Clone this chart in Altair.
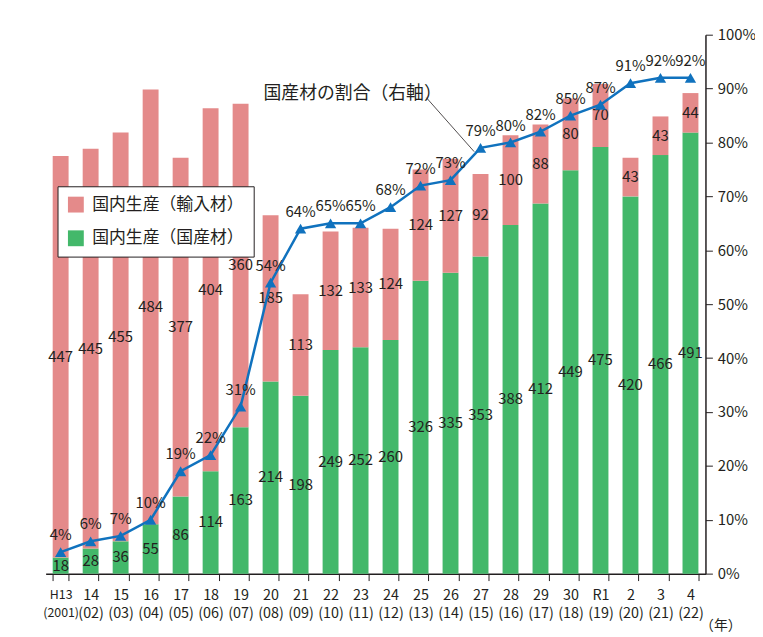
import altair as alt
import pandas as pd

# ---- data ----
years = ["H13|(2001)", "14|(02)", "15|(03)", "16|(04)", "17|(05)", "18|(06)", "19|(07)",
         "20|(08)", "21|(09)", "22|(10)", "23|(11)", "24|(12)", "25|(13)", "26|(14)",
         "27|(15)", "28|(16)", "29|(17)", "30|(18)", "R1|(19)", "2|(20)", "3|(21)", "4|(22)"]
domestic = [18, 28, 36, 55, 86, 114, 163, 214, 198, 249, 252, 260, 326, 335, 353, 388, 412, 449, 475, 420, 466, 491]
imported = [447, 445, 455, 484, 377, 404, 360, 185, 113, 132, 133, 124, 124, 127, 92, 100, 88, 80, 70, 43, 43, 44]
share_pct = [4, 6, 7, 10, 19, 22, 31, 54, 64, 65, 65, 68, 72, 73, 79, 80, 82, 85, 87, 91, 92, 92]

DOM = "国内生産（国産材）"
IMP = "国内生産（輸入材）"
ANNOT = "国産材の割合（右軸）"

PINK = "#e48a8a"
GREEN = "#43b86a"
BLUE = "#1072be"
INK = "#231f20"
FONT = "Noto Sans CJK JP"

rows = []
for y, d, i in zip(years, domestic, imported):
    rows.append({"yr": y, "kind": DOM, "value": d, "ord": 0})
    rows.append({"yr": y, "kind": IMP, "value": i, "ord": 1})
df_bar = pd.DataFrame(rows)
df_pct = pd.DataFrame({"yr": years, "pct": share_pct,
                       "lbl": [f"{p}%" for p in share_pct]})
df_annot = pd.DataFrame({"xa": ["23|(11)"], "ya": [89]})
df_lead = pd.DataFrame({"xa": ["25|(13)"], "xb": ["27|(15)"], "ya": [88.3], "yb": [78.3]})

x_scale = alt.Scale(domain=years, paddingInner=0.47, paddingOuter=0.235)

x_enc = alt.X("yr:N", sort=None, scale=x_scale,
              axis=alt.Axis(title="（年）", titleAngle=0, titleX=681, titleY=52,
                            titleAlign="center", titleBaseline="middle",
                            titleFontSize=14, titleFontWeight="normal", titleColor=INK,
                            labelExpr="split(datum.label, '|')", labelAngle=0,
                            labelFontSize=alt.condition("datum.value == 'H13|(2001)'",
                                                        alt.value(12.5), alt.value(14.5)),
                            labelLineHeight=18, labelPadding=8,
                            labelColor=INK, tickBand="extent", tickSize=7,
                            tickColor=INK, domainColor=INK, domainWidth=1.5,
                            labelOverlap=False))


def xf(field="yr", **kw):
    return alt.X(f"{field}:N", sort=None, scale=x_scale, **kw)


y_left = alt.Scale(domain=[0, 600])

bars = alt.Chart(df_bar).mark_bar().encode(
    x=x_enc,
    y=alt.Y("value:Q", stack="zero", scale=y_left,
            axis=alt.Axis(title="（万㎡）", titleAngle=0, titleX=-13, titleY=-15,
                          titleAlign="left", titleBaseline="middle", titleFontSize=14,
                          titleFontWeight="normal", titleColor=INK,
                          values=[0, 100, 200, 300, 400, 500, 600],
                          labelFontSize=16, labelColor=INK, labelPadding=4,
                          tickSize=7, tickColor=INK, domainColor=INK, domainWidth=1.5,
                          grid=True, gridDash=[4, 3], gridColor="#444", gridWidth=1)),
    color=alt.Color("kind:N", scale=alt.Scale(domain=[IMP, DOM], range=[PINK, GREEN]),
                    legend=alt.Legend(title=None, orient="none", legendX=12, legendY=153,
                                      direction="vertical", fillColor="white",
                                      strokeColor=INK, padding=10, cornerRadius=0,
                                      symbolType="square", symbolSize=256,
                                      symbolStrokeWidth=0, labelFontSize=17,
                                      labelColor=INK, rowPadding=16, labelOffset=8,
                                      labelLimit=300)),
    order=alt.Order("ord:Q"),
)

bar_labels = alt.Chart(df_bar).transform_stack(
    stack="value", groupby=["yr"], as_=["v0", "v1"], sort=[alt.SortField("ord")]
).transform_calculate(mid="(datum.v0 + datum.v1) / 2").mark_text(
    fontSize=15, color=INK, baseline="middle"
).encode(
    x=xf(),
    y=alt.Y("mid:Q", scale=y_left, axis=None),
    text="value:Q",
)

left = alt.layer(bars, bar_labels)

y_right = alt.Scale(domain=[0, 100])
right_axis = alt.Axis(title=None, orient="right", values=list(range(0, 101, 10)),
                      labelExpr="datum.value + '%'", labelFontSize=15, labelColor=INK,
                      labelPadding=5, tickSize=7, tickColor=INK, domainColor=INK,
                      domainWidth=1.5, grid=False)

line = alt.Chart(df_pct).mark_line(color=BLUE, strokeWidth=2.5).encode(
    x=xf(),
    y=alt.Y("pct:Q", scale=y_right, axis=right_axis),
)
points = alt.Chart(df_pct).mark_point(shape="triangle-up", filled=True, size=130,
                                      color=BLUE, opacity=1).encode(
    x=xf(),
    y=alt.Y("pct:Q", scale=y_right),
)
pct_labels = alt.Chart(df_pct).mark_text(fontSize=15, color=INK, dy=-17).encode(
    x=xf(),
    y=alt.Y("pct:Q", scale=y_right),
    text="lbl:N",
)
annot_text = alt.Chart(df_annot).mark_text(text=ANNOT, fontSize=18, color=INK,
                                           dx=-8, baseline="middle").encode(
    x=xf("xa"),
    y=alt.Y("ya:Q", scale=y_right),
)
annot_rule = alt.Chart(df_lead).mark_rule(color=INK, strokeWidth=0.8).encode(
    x=xf("xa", bandPosition=0.87),
    x2=alt.X2("xb:N", bandPosition=0.1),
    y=alt.Y("ya:Q", scale=y_right),
    y2="yb:Q",
)

right = alt.layer(line, points, pct_labels, annot_text, annot_rule)

chart = alt.layer(left, right).resolve_scale(y="independent").properties(
    width=666, height=544,
    autosize=alt.AutoSizeParams(type="none"),
    padding={"left": 38, "top": 24, "right": 50, "bottom": 60},
).configure(font=FONT).configure_view(stroke=None)

chart.save("out.html", embed_options={"renderer": "svg", "actions": False})
